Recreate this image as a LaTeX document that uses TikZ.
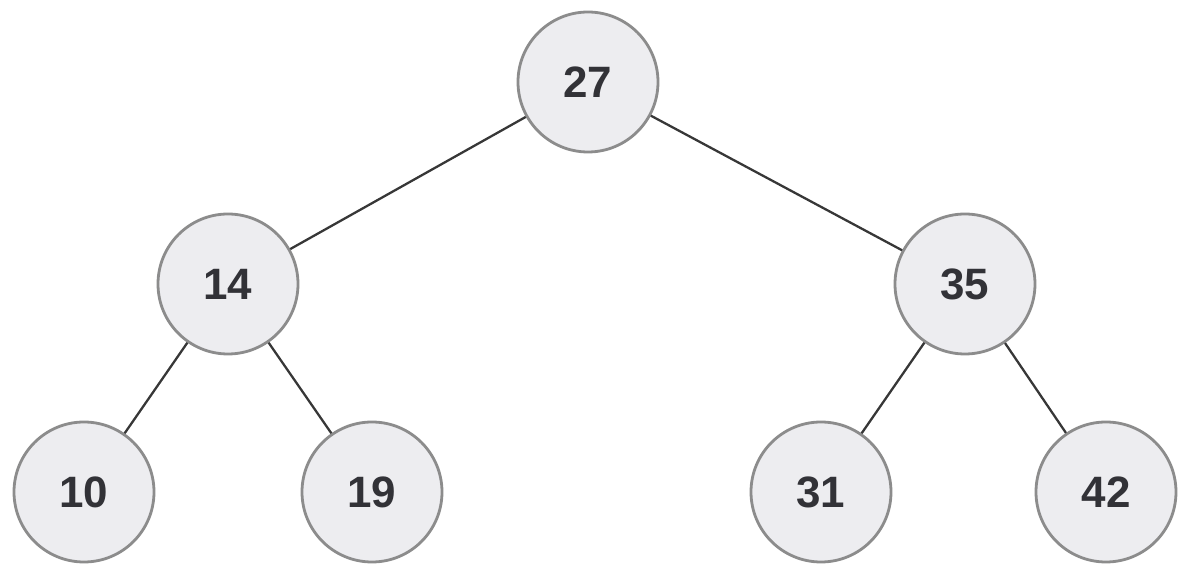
\documentclass[tikz,border=0pt]{standalone}
\usepackage{fontspec}
\setmainfont{Liberation Sans}
\usepackage{tikz}
\usetikzlibrary{positioning}
\usepackage{xcolor}
\definecolor{btFill}{RGB}{237,237,240}
\definecolor{btRing}{RGB}{140,140,140}
\definecolor{btText}{RGB}{50,50,55}
\definecolor{btEdge}{RGB}{55,55,55}
\tikzset{
    keynode/.style={
        circle,draw=btRing,line width=1.6pt,fill=btFill,
        minimum size=2.8cm,inner sep=0pt,
        font=\fontsize{25}{30}\selectfont\bfseries,text=btText
    },
    branch/.style={
        line width=1.3pt,draw=btEdge
    }
}
\begin{document}
\begin{tikzpicture}

\useasboundingbox (0,0) rectangle (23.6,-11.3);

% root
\node[keynode](k27) at (11.76,-1.64) {27};

% second level
\node[keynode](k14) at (4.56,-5.68) {14};
\node[keynode](k35) at (19.30,-5.68) {35};

% leaves
\node[keynode](k10) at (1.68,-9.84) {10};
\node[keynode](k19) at (7.44,-9.84) {19};
\node[keynode](k31) at (16.42,-9.84) {31};
\node[keynode](k42) at (22.12,-9.84) {42};

\draw[branch](k27)--(k14);
\draw[branch](k27)--(k35);
\draw[branch](k14)--(k10);
\draw[branch](k14)--(k19);
\draw[branch](k35)--(k31);
\draw[branch](k35)--(k42);

\end{tikzpicture}
\end{document}
